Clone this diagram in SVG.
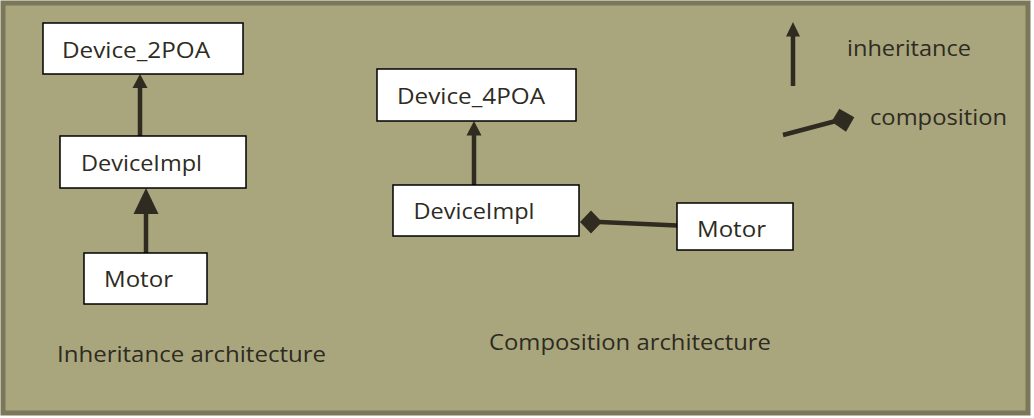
<svg xmlns="http://www.w3.org/2000/svg" width="1034" height="418" viewBox="0 0 1034 418">
<style>
.node rect{fill:#ffffff;stroke:#000000;stroke-width:1.5}
text{font-family:"Open Sans","Liberation Sans",sans-serif;font-size:21px;fill:#2e2b22}
.ln{stroke:#2f2b20;stroke-width:4.5;fill:none}
.head{fill:#2f2b20}
</style>
<rect x="3" y="3" width="1025" height="410" fill="#a9a67e" stroke="#7b7759" stroke-width="5"/>
<g id="connectors">
  <line class="ln" x1="140" y1="136" x2="140" y2="86"/>
  <polygon class="head" points="140,74 147.5,88 132.5,88"/>
  <line class="ln" x1="146" y1="253" x2="146" y2="212"/>
  <polygon class="head" points="146,188 158.5,214 133.5,214"/>
  <line class="ln" x1="474" y1="185" x2="474" y2="133"/>
  <polygon class="head" points="474,121 481.5,135.5 466.5,135.5"/>
  <line class="ln" x1="677" y1="225.5" x2="600" y2="222"/>
  <polygon class="head" points="580,222 591,210.5 602,222 591,233.5"/>
  <line class="ln" x1="793" y1="86" x2="793" y2="34"/>
  <polygon class="head" points="793,22 800,36.5 786,36.5"/>
  <line class="ln" x1="783" y1="135" x2="834" y2="121.5"/>
  <polygon class="head" points="831.5,121.7 839.3,108.7 854.3,117.3 846,131.7"/>
</g>
<g id="device2poa" class="node"><rect x="43" y="23" width="200" height="51"/><text x="62" y="58" textLength="148" lengthAdjust="spacingAndGlyphs">Device_2POA</text></g>
<g id="deviceimpl1" class="node"><rect x="60" y="136" width="186" height="52"/><text x="81" y="171" textLength="121" lengthAdjust="spacingAndGlyphs">DeviceImpl</text></g>
<g id="motor1" class="node"><rect x="84" y="253" width="123" height="51"/><text x="104" y="286.5" textLength="69" lengthAdjust="spacingAndGlyphs">Motor</text></g>
<g id="device4poa" class="node"><rect x="377" y="69" width="199" height="52"/><text x="397" y="104" textLength="148" lengthAdjust="spacingAndGlyphs">Device_4POA</text></g>
<g id="deviceimpl2" class="node"><rect x="393" y="185" width="186" height="51"/><text x="413.5" y="219" textLength="121" lengthAdjust="spacingAndGlyphs">DeviceImpl</text></g>
<g id="motor2" class="node"><rect x="677" y="203" width="116" height="47"/><text x="697" y="236.5" textLength="69" lengthAdjust="spacingAndGlyphs">Motor</text></g>
<g id="legend">
  <text x="847" y="56" textLength="124" lengthAdjust="spacingAndGlyphs">inheritance</text>
  <text x="870" y="125" textLength="137" lengthAdjust="spacingAndGlyphs">composition</text>
</g>
<g id="captions">
  <text x="57" y="362" textLength="269" lengthAdjust="spacingAndGlyphs">Inheritance architecture</text>
  <text x="489" y="350" textLength="282" lengthAdjust="spacingAndGlyphs">Composition architecture</text>
</g>
</svg>
